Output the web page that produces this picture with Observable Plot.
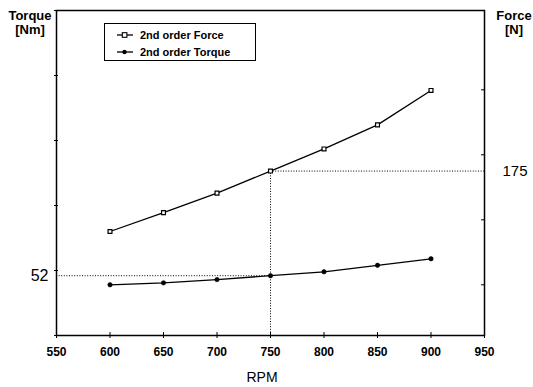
<!DOCTYPE html>
<html>
<head>
<meta charset="utf-8">
<script src="https://cdn.jsdelivr.net/npm/d3@7"></script>
<script src="https://cdn.jsdelivr.net/npm/@observablehq/plot@0.6"></script>
<style>
  body { margin: 0; background: #fff; }
  #wrap { position: relative; width: 533px; height: 387px; font-family: 'Liberation Sans', Arial, sans-serif; color: #000; }
  #wrap > svg { position: absolute; left: 0; top: 0; }
  #wrap > svg [aria-label="x-axis tick label"] { font-weight: bold; }
  .lbl { position: absolute; text-align: center; white-space: nowrap; }
  #legend { position: absolute; left: 104px; top: 23px; width: 152px; height: 38px; box-sizing: border-box; border: 1.3px solid #000; background: #fff; }
  .row { position: absolute; left: 0; height: 14px; display: flex; align-items: center; font-weight: bold; font-size: 11px; }
  .row svg { display: block; margin-left: 12px; margin-right: 7px; }
</style>
</head>
<body>
<div id="wrap"></div>
<script>
// ---- data ----
const rpm = [600, 650, 700, 750, 800, 850, 900];
const force = [156.4, 162.2, 168.2, 175.0, 181.8, 189.2, 199.8];   // N
const torque = [51.86, 51.89, 51.94, 52.00, 52.06, 52.16, 52.26]; // Nm
const seriesNames = ["2nd order Force", "2nd order Torque"];
const xTicks = [550, 600, 650, 700, 750, 800, 850, 900, 950];
const xDomain = [550, 950];
const torqueDomain = [51.08, 56.08];
const forceDomain = [124.4, 224.4];
const forceTicks = [140, 160, 180, 200];
const torqueLabel = [52];
const forceLabel = [175];
const refRpm = 750, refTorque = 52, refForce = 175;

const toT = d3.scaleLinear().domain(forceDomain).range(torqueDomain);
const torqueTicks = d3.range(0, 6).map(k => torqueDomain[0] + k);

const forceData = rpm.map((r, i) => ({rpm: r, v: toT(force[i])}));
const torqueData = rpm.map((r, i) => ({rpm: r, v: torque[i]}));

const dot = {stroke: "#000", strokeWidth: 1, strokeDasharray: "1,1.6"};

const chart = Plot.plot({
  width: 533, height: 387,
  marginLeft: 56, marginRight: 49, marginTop: 10, marginBottom: 52,
  style: {fontFamily: "'Liberation Sans', Arial, sans-serif", background: "transparent", color: "#000"},
  x: {domain: xDomain, label: null},
  y: {domain: torqueDomain, label: null},
  marks: [
    // reference dotted lines
    Plot.ruleY([refTorque], {x1: xDomain[0], x2: refRpm, ...dot}),
    Plot.ruleX([refRpm], {y1: torqueDomain[0], y2: toT(refForce), ...dot}),
    Plot.ruleY([toT(refForce)], {x1: refRpm, x2: xDomain[1], ...dot}),
    Plot.frame({stroke: "#000", strokeWidth: 1.5}),
    // x axis
    Plot.axisX({ticks: xTicks, tickSize: 3, tickPadding: 9, fontSize: 12, fontWeight: "bold", label: null, tickFormat: d => String(d)}),
    Plot.axisX({ticks: xTicks, tickSize: -3, tickFormat: () => "", label: null}),
    // left torque axis
    Plot.axisY(torqueTicks, {anchor: "left", tickSize: 2, tickFormat: () => "", label: null}),
    Plot.axisY(torqueTicks, {anchor: "left", tickSize: -2, tickFormat: () => "", label: null}),
    Plot.axisY(torqueLabel, {anchor: "left", tickSize: 0, tickPadding: 8, fontSize: 16, label: null, tickFormat: d => String(d)}),
    // right force axis
    Plot.axisY(forceTicks.map(toT), {anchor: "right", tickSize: -4, tickFormat: () => "", label: null}),
    Plot.axisY(forceLabel.map(toT), {anchor: "right", tickSize: 0, tickPadding: 18, fontSize: 15, label: null,
      tickFormat: d => String(Math.round(toT.invert(d)))}),
    // series
    Plot.line(forceData, {x: "rpm", y: "v", stroke: "#000", strokeWidth: 1.3}),
    Plot.line(torqueData, {x: "rpm", y: "v", stroke: "#000", strokeWidth: 1.3}),
    Plot.dot(forceData, {x: "rpm", y: "v", symbol: "square", r: 2.2, fill: "#fff", stroke: "#000", strokeWidth: 1.2}),
    Plot.dot(torqueData, {x: "rpm", y: "v", symbol: "circle", r: 2.2, fill: "#000", stroke: "#000", strokeWidth: 0.6})
  ]
});

const wrap = document.getElementById("wrap");
wrap.appendChild(chart);

function addLabel(lines, left, top, width, size, weight, lh) {
  const d = document.createElement("div");
  d.className = "lbl";
  d.style.left = left + "px"; d.style.top = top + "px"; d.style.width = width + "px";
  d.style.fontSize = size + "px"; d.style.fontWeight = weight; d.style.lineHeight = lh + "px";
  d.innerHTML = lines.join("<br>");
  wrap.appendChild(d);
}
addLabel(["Torque", "[Nm]"], 0, 9, 60, 13, "bold", 13.5);
addLabel(["Force", "[N]"], 494, 9, 40, 13, "bold", 13.5);
addLabel(["RPM"], 232, 370, 60, 14, "normal", 14);

// legend
const leg = document.createElement("div");
leg.id = "legend";
seriesNames.forEach((name, i) => {
  const row = document.createElement("div");
  row.className = "row";
  row.style.top = (i === 0 ? 4 : 21) + "px";
  const marker = i === 0
    ? '<rect x="5.3" y="2.7" width="4.6" height="4.6" fill="#fff" stroke="#000" stroke-width="1.1"/>'
    : '<circle cx="7.5" cy="5" r="2.2" fill="#000"/>';
  row.innerHTML = '<svg width="16" height="10"><line x1="0" y1="5" x2="16" y2="5" stroke="#000" stroke-width="1.3"/>' + marker + '</svg><span>' + name + '</span>';
  leg.appendChild(row);
});
wrap.appendChild(leg);
</script>
</body>
</html>
